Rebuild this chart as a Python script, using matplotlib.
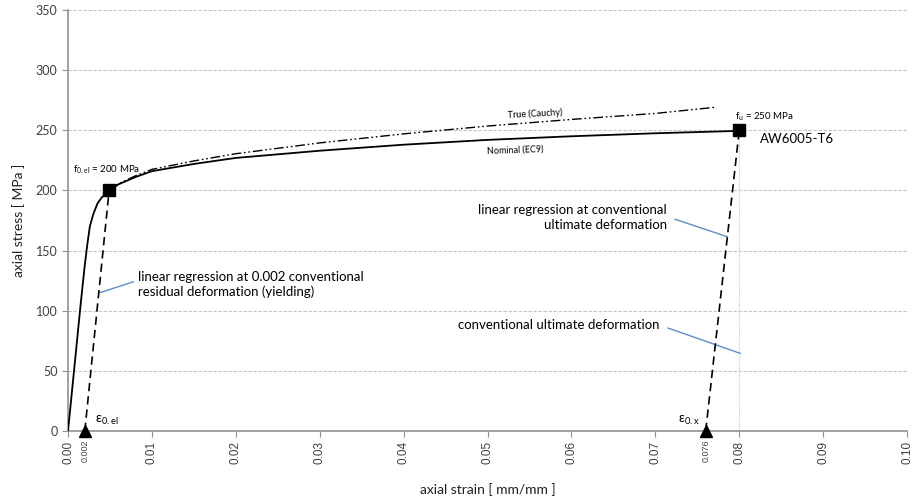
"""Stress-strain curve of AW6005-T6 with conventional yield and ultimate points"""
import matplotlib
matplotlib.use('Agg')
import matplotlib.pyplot as plt

plt.rcParams['font.family'] = ['Lato', 'DejaVu Sans']

# Nominal (EC9) curve
nominal_strain = [0, 0.0005, 0.001, 0.0015, 0.002, 0.0023, 0.0026, 0.003, 0.0035,
                  0.004, 0.0049, 0.006, 0.008, 0.01, 0.015, 0.02, 0.03, 0.04,
                  0.05, 0.06, 0.07, 0.08]
nominal_stress = [0, 35, 70, 105, 138, 155, 170, 180, 189,
                  194, 200, 205, 211, 216, 222, 227, 233, 238,
                  242, 245, 247.5, 249.5]

# True (Cauchy) curve
true_strain = [0.0049, 0.006, 0.008, 0.01, 0.015, 0.02, 0.03, 0.04, 0.05, 0.06, 0.07, 0.077]
true_stress = [201, 205.5, 212, 217.5, 224.5, 230.5, 239.5, 247, 253.5, 259, 264, 269]

# regression lines
yield_line_strain = [0.002, 0.0049]
yield_line_stress = [0, 200]
ult_line_strain = [0.076, 0.08]
ult_line_stress = [0, 250]

# marked points
square_strain = [0.0049, 0.08]
square_stress = [200, 250]
triangle_strain = [0.002, 0.076]
triangle_stress = [0, 0]

x_ticks = [0.00, 0.01, 0.02, 0.03, 0.04, 0.05, 0.06, 0.07, 0.08, 0.09, 0.10]
x_ticklabels = ['0.00', '0.01', '0.02', '0.03', '0.04', '0.05', '0.06', '0.07', '0.08', '0.09', '0.10']
extra_ticks = [0.002, 0.076]
extra_ticklabels = ['0.002', '0.076']
y_ticks = [0, 50, 100, 150, 200, 250, 300, 350]

fig = plt.figure(figsize=(9.13, 4.98), dpi=100)
ax = fig.add_axes([0.0745, 0.1345, 0.919, 0.8455])

blue = '#5b8fc9'
tick_font = ['Liberation Sans', 'DejaVu Sans']

# grid
for y in y_ticks[1:]:
    ax.axhline(y, color='#c4c4c4', lw=0.8, ls=(0, (3, 1.5)), zorder=0)

# thin vertical at ultimate strain
ax.plot([0.08, 0.08], [0, 250], color='#c8c8c8', lw=0.8, ls=(0, (1, 1)), zorder=1)

ax.plot(nominal_strain, nominal_stress, color='black', lw=1.3, zorder=3)
ax.plot(true_strain, true_stress, color='black', lw=1.0,
        ls=(0, (7, 2, 1.2, 2, 1.2, 2)), zorder=3)
ax.plot(yield_line_strain, yield_line_stress, color='black', lw=1.2, ls=(0, (5, 3)), zorder=3)
ax.plot(ult_line_strain, ult_line_stress, color='black', lw=1.2, ls=(0, (5, 3)), zorder=3)

ax.plot(square_strain, square_stress, ls='none', marker='s', ms=8, color='black', zorder=5)
ax.plot(triangle_strain, triangle_stress, ls='none', marker='^', ms=8, color='black',
        zorder=5, clip_on=False)

# annotations
ax.text(0.0006, 217, r'f$_{\mathregular{0.el}}$ = 200 MPa', fontsize=7, va='center')
ax.text(0.0795, 261, r'f$_{\mathregular{u}}$ = 250 MPa', fontsize=7, va='center')
ax.text(0.0825, 243, 'AW6005-T6', fontsize=9.5, va='center')
ax.text(0.0557, 263.5, 'True (Cauchy)', fontsize=6.5, ha='center', va='center', rotation=3)
ax.text(0.0533, 233.6, 'Nominal (EC9)', fontsize=6.5, ha='center', va='center', rotation=2)

ax.text(0.00834, 121.8, 'linear regression at 0.002 conventional\nresidual deformation (yielding)',
        fontsize=9.5, va='center', ha='left', linespacing=1.25)
ax.plot([0.00381, 0.00778], [115, 124], color=blue, lw=1)

ax.text(0.07136, 177.3, 'linear regression at conventional\nultimate deformation',
        fontsize=9.5, va='center', ha='right', multialignment='right', linespacing=1.25)
ax.plot([0.07235, 0.07858], [176, 161.5], color=blue, lw=1)

ax.text(0.04648, 88, 'conventional ultimate deformation', fontsize=9.5, va='center', ha='left')
ax.plot([0.07151, 0.0801], [85.6, 64.6], color=blue, lw=1)

ax.text(0.0032, 9, r'ε$_{\mathregular{0.el}}$', fontsize=9.5, va='center', ha='left')
ax.text(0.0727, 9, r'ε$_{\mathregular{0.x}}$', fontsize=9.5, va='center', ha='left')

# axes
ax.set_xlim(0, 0.10)
ax.set_ylim(0, 350)
ax.set_xticks(x_ticks)
ax.set_xticklabels(x_ticklabels, rotation=90, fontsize=8.5, color='#404040', family=tick_font)
ax.set_xticks(extra_ticks, minor=True)
ax.set_xticklabels(extra_ticklabels, minor=True, rotation=90, fontsize=6.5, color='#404040',
                   family=tick_font)
ax.tick_params(axis='x', which='major', length=4, color='#909090', pad=3)
ax.tick_params(axis='x', which='minor', length=0, pad=6)
ax.set_yticks(y_ticks)
ax.set_yticklabels([str(v) for v in y_ticks], fontsize=9, color='#404040')
ax.tick_params(axis='y', length=4, color='#909090')

for s in ['top', 'right']:
    ax.spines[s].set_visible(False)
for s in ['left', 'bottom']:
    ax.spines[s].set_color('#909090')
    ax.spines[s].set_linewidth(1.2)

ax.set_xlabel('axial strain [ mm/mm ]', fontsize=10, color='#202020', labelpad=14)
ax.set_ylabel('axial stress [ MPa ]', fontsize=10, color='#202020', labelpad=8)

fig.savefig('out.png', dpi=100)
